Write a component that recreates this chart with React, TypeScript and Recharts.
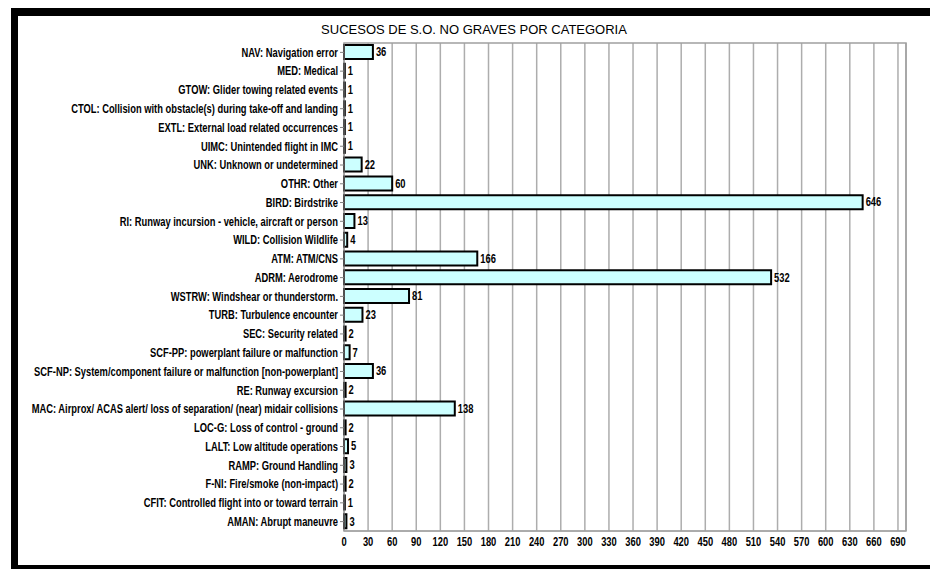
import { BarChart, Bar, XAxis, YAxis, CartesianGrid, LabelList, ReferenceArea } from 'recharts';

// Non-serious occurrences, by category (top to bottom)
const categories = [
  'NAV: Navigation error',
  'MED: Medical',
  'GTOW: Glider towing related events',
  'CTOL: Collision with obstacle(s) during take-off and landing',
  'EXTL: External load related occurrences',
  'UIMC: Unintended flight in IMC',
  'UNK: Unknown or undetermined',
  'OTHR: Other',
  'BIRD: Birdstrike',
  'RI: Runway incursion - vehicle, aircraft or person',
  'WILD: Collision Wildlife',
  'ATM: ATM/CNS',
  'ADRM: Aerodrome',
  'WSTRW: Windshear or thunderstorm.',
  'TURB: Turbulence encounter',
  'SEC: Security related',
  'SCF-PP: powerplant failure or malfunction',
  'SCF-NP: System/component failure or malfunction [non-powerplant]',
  'RE: Runway excursion',
  'MAC: Airprox/ ACAS alert/ loss of separation/ (near) midair collisions',
  'LOC-G: Loss of control - ground',
  'LALT: Low altitude operations',
  'RAMP: Ground Handling',
  'F-NI: Fire/smoke (non-impact)',
  'CFIT: Controlled flight into or toward terrain',
  'AMAN: Abrupt maneuvre',
];

const counts = [36, 1, 1, 1, 1, 1, 22, 60, 646, 13, 4, 166, 532, 81, 23, 2, 7, 36, 2, 138, 2, 5, 3, 2, 1, 3];

const xTicks = [0, 30, 60, 90, 120, 150, 180, 210, 240, 270, 300, 330, 360, 390, 420, 450, 480, 510, 540, 570, 600, 630, 660, 690];

// narrow bold look: plain bold sans squeezed horizontally
const FONT = 'Arial, "Liberation Sans", sans-serif';
const SQUEEZE = 0.78;

function NarrowText({ x, y, anchor, dy, children }: any) {
  return (
    <g transform={`translate(${x},${y}) scale(${SQUEEZE},1)`}>
      <text x={0} y={0} dy={dy} textAnchor={anchor} fill="#000" fontSize={12} fontWeight="bold" fontFamily={FONT}>
        {children}
      </text>
    </g>
  );
}

function CategoryTick({ x, y, payload }: any) {
  return (
    <NarrowText x={x} y={y} anchor="end" dy="0.36em">
      {payload.value}
    </NarrowText>
  );
}

function ValueTick({ x, y, payload }: any) {
  return (
    <NarrowText x={x} y={y} anchor="middle" dy="0.71em">
      {payload.value}
    </NarrowText>
  );
}

function CountLabel({ x, y, width, height, value }: any) {
  return (
    <NarrowText x={x + width + 3} y={y + height / 2} anchor="start" dy="0.36em">
      {value}
    </NarrowText>
  );
}

export default function App() {
  const chartData = categories.map((name, i) => ({ name, count: counts[i] }));

  return (
    <div style={{ position: 'absolute', left: 0, top: 0, width: 930, height: 569, background: '#fff', overflow: 'hidden' }}>
      {/* window frame */}
      <div style={{ position: 'absolute', left: 11, top: 8, width: 919, height: 8, background: '#000' }} />
      <div style={{ position: 'absolute', left: 11, top: 8, width: 7, height: 561, background: '#000' }} />
      <div style={{ position: 'absolute', left: 11, top: 565, width: 919, height: 4, background: '#000' }} />

      <div
        style={{
          position: 'absolute',
          left: 320,
          top: 22,
          width: 308,
          textAlign: 'center',
          fontFamily: 'Arial, sans-serif',
          fontSize: 13,
          color: '#000',
          whiteSpace: 'nowrap',
        }}
      >
        SUCESOS DE S.O. NO GRAVES POR CATEGORIA
      </div>

      <div style={{ position: 'absolute', left: 0, top: 0 }}>
        <BarChart
          width={930}
          height={569}
          data={chartData}
          layout="vertical"
          margin={{ top: 43, right: 24, bottom: 8, left: 0 }}
        >
          <CartesianGrid horizontal={false} stroke="#adadad" strokeWidth={1.5} />
          <ReferenceArea x1={0} x2={700} fill="none" stroke="#a0a0a0" strokeWidth={1.5} />
          <XAxis
            type="number"
            domain={[0, 700]}
            ticks={xTicks}
            interval={0}
            height={30}
            axisLine={{ stroke: '#a0a0a0' }}
            tickLine={false}
            tickSize={0}
            tickMargin={6}
            tick={<ValueTick />}
          />
          <YAxis
            type="category"
            dataKey="name"
            width={344}
            interval={0}
            tickSize={4}
            tickMargin={2}
            axisLine={{ stroke: '#a0a0a0' }}
            tickLine={{ stroke: '#808080' }}
            tick={<CategoryTick />}
          />
          <Bar dataKey="count" fill="#ccffff" stroke="#000" strokeWidth={2} barSize={14} isAnimationActive={false}>
            <LabelList dataKey="count" content={<CountLabel />} />
          </Bar>
        </BarChart>
      </div>
    </div>
  );
}
